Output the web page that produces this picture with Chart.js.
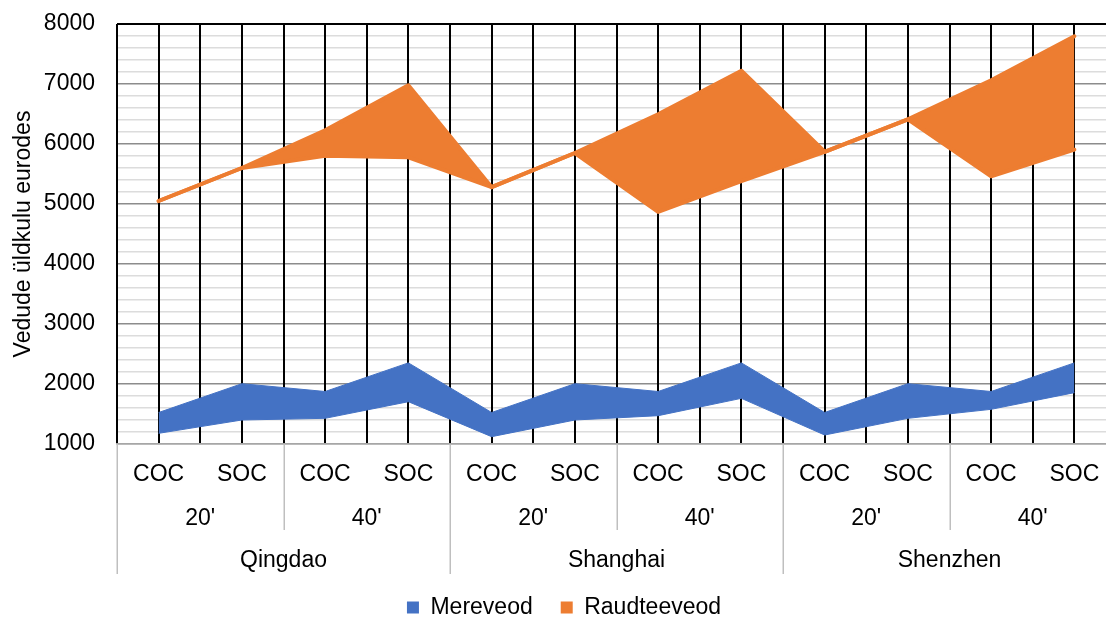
<!DOCTYPE html>
<html>
<head>
<meta charset="utf-8">
<script src="https://cdn.jsdelivr.net/npm/chart.js@4.4.1/dist/chart.umd.min.js"></script>
<style>
  html, body { margin: 0; padding: 0; overflow: hidden; background: #fff; }
  canvas { display: block; }
</style>
</head>
<body>
<canvas id="c" width="1116" height="629"></canvas>
<script>
// Category levels (outer to inner)
const cities = ['Qingdao', 'Shanghai', 'Shenzhen'];
const sizes = ["20'", "40'"];
const types = ['COC', 'SOC'];

// Series names
const seaName = 'Mereveod';
const railName = 'Raudteeveod';

// Total cost ranges in euros, one value per city / size / type
const seaLow   = [1178, 1400, 1428, 1705, 1122, 1400, 1472, 1761, 1150, 1428, 1578, 1856];
const seaHigh  = [1525, 2005, 1875, 2352, 1525, 2005, 1875, 2352, 1525, 2005, 1875, 2352];
const railLow  = [5050, 5600, 5805, 5778, 5280, 5850, 4867, 5380, 5870, 6410, 5462, 5905];
const railHigh = [5050, 5600, 6228, 6980, 5280, 5850, 6495, 7220, 5870, 6410, 7062, 7795];

// Value axis
const yMin = 1000, yMax = 8000, yMinorStep = 200, yMajorStep = 1000;

const FONT = '"Liberation Sans", Arial, sans-serif';
const BLUE = '#4472C4';
const ORANGE = '#ED7D31';

// Flat category list (city > size > type)
const categories = [];
cities.forEach(c => sizes.forEach(s => types.forEach(t => categories.push({ city: c, size: s, type: t }))));

const toPoints = arr => arr.map((v, i) => ({ x: i, y: v }));

// Three-level category labels under the plot
const groupLabels = {
  id: 'groupLabels',
  afterDraw(chart) {
    const { ctx, chartArea, scales: { x } } = chart;
    const b = chartArea.bottom;
    ctx.save();
    ctx.font = '23px ' + FONT;
    ctx.fillStyle = '#000';
    ctx.textAlign = 'center';
    ctx.textBaseline = 'middle';
    categories.forEach((c, i) => ctx.fillText(c.type, x.getPixelForValue(i), b + 31));
    const perSize = types.length;
    const perCity = sizes.length * types.length;
    for (let g = 0; g < cities.length * sizes.length; g++) {
      ctx.fillText(sizes[g % sizes.length], x.getPixelForValue(g * perSize + (perSize - 1) / 2), b + 75);
    }
    cities.forEach((c, k) => ctx.fillText(c, x.getPixelForValue(k * perCity + (perCity - 1) / 2), b + 117));

    ctx.strokeStyle = '#bfbfbf';
    ctx.lineWidth = 1.5;
    for (let g = 0; g <= cities.length * sizes.length; g++) {
      const px = Math.round(x.getPixelForValue(g * perSize - 0.5)) + 0.25;
      const full = g % sizes.length === 0;
      ctx.beginPath();
      ctx.moveTo(px, b);
      ctx.lineTo(px, b + (full ? 130 : 86));
      ctx.stroke();
    }
    ctx.restore();
  }
};

new Chart(document.getElementById('c'), {
  type: 'line',
  data: {
    datasets: [
      { label: seaName, data: toPoints(seaLow), borderColor: BLUE, borderWidth: 1, backgroundColor: BLUE, fill: false, pointRadius: 0, tension: 0 },
      { label: seaName, data: toPoints(seaHigh), borderColor: BLUE, borderWidth: 1, backgroundColor: BLUE, fill: '-1', pointRadius: 0, tension: 0 },
      { label: railName, data: toPoints(railLow), borderColor: ORANGE, borderWidth: 4, backgroundColor: ORANGE, fill: false, pointRadius: 0, tension: 0, borderJoinStyle: 'round', borderCapStyle: 'round' },
      { label: railName, data: toPoints(railHigh), borderColor: ORANGE, borderWidth: 4, backgroundColor: ORANGE, fill: '-1', pointRadius: 0, tension: 0, borderJoinStyle: 'round', borderCapStyle: 'round' }
    ]
  },
  options: {
    responsive: false,
    devicePixelRatio: 1,
    animation: false,
    layout: { padding: { left: 12, top: 24, right: 0, bottom: 0 } },
    scales: {
      x: {
        type: 'linear',
        min: -0.5,
        max: categories.length - 0.5,
        afterBuildTicks(scale) {
          const t = [];
          for (let v = -0.5; v <= categories.length - 0.5 + 1e-9; v += 0.5) t.push({ value: v });
          scale.ticks = t;
        },
        ticks: { display: false },
        grid: { color: '#000', lineWidth: 2, drawTicks: false, z: -1 },
        border: { display: true, color: '#a6a6a6', width: 1.5 },
        afterFit(scale) { scale.height = 124; }
      },
      y: {
        min: yMin,
        max: yMax,
        ticks: {
          stepSize: yMinorStep,
          autoSkip: false,
          padding: 0,
          color: '#000',
          font: { family: FONT, size: 23 },
          callback: v => (v % yMajorStep === 0 ? String(v) : '')
        },
        grid: {
          z: -2,
          drawTicks: true,
          tickLength: 22,
          tickColor: 'rgba(0,0,0,0)',
          color: ctx => {
            const v = ctx.tick.value;
            if (v === yMax) return '#000';
            if (v === yMin) return '#a6a6a6';
            return v % yMajorStep === 0 ? '#8c8c8c' : '#dcdcdc';
          },
          lineWidth: ctx => (ctx.tick.value === yMax ? 2 : 1.5)
        },
        border: { display: false },
        title: {
          display: true,
          text: 'Vedude üldkulu eurodes',
          color: '#000',
          font: { family: FONT, size: 23, lineHeight: 1 },
          padding: 0
        },
        afterFit(scale) { scale.width = 105; }
      }
    },
    plugins: {
      legend: {
        position: 'bottom',
        labels: {
          color: '#000',
          font: { family: FONT, size: 23 },
          boxWidth: 12,
          boxHeight: 12,
          padding: 28,
          generateLabels(chart) {
            return Chart.defaults.plugins.legend.labels.generateLabels(chart)
              .filter(l => l.datasetIndex % 2 === 1)
              .map(l => Object.assign(l, { lineWidth: 0, strokeStyle: 'rgba(0,0,0,0)' }));
          }
        },
        onClick: null
      },
      tooltip: { enabled: false }
    }
  },
  plugins: [groupLabels]
});
</script>
</body>
</html>
